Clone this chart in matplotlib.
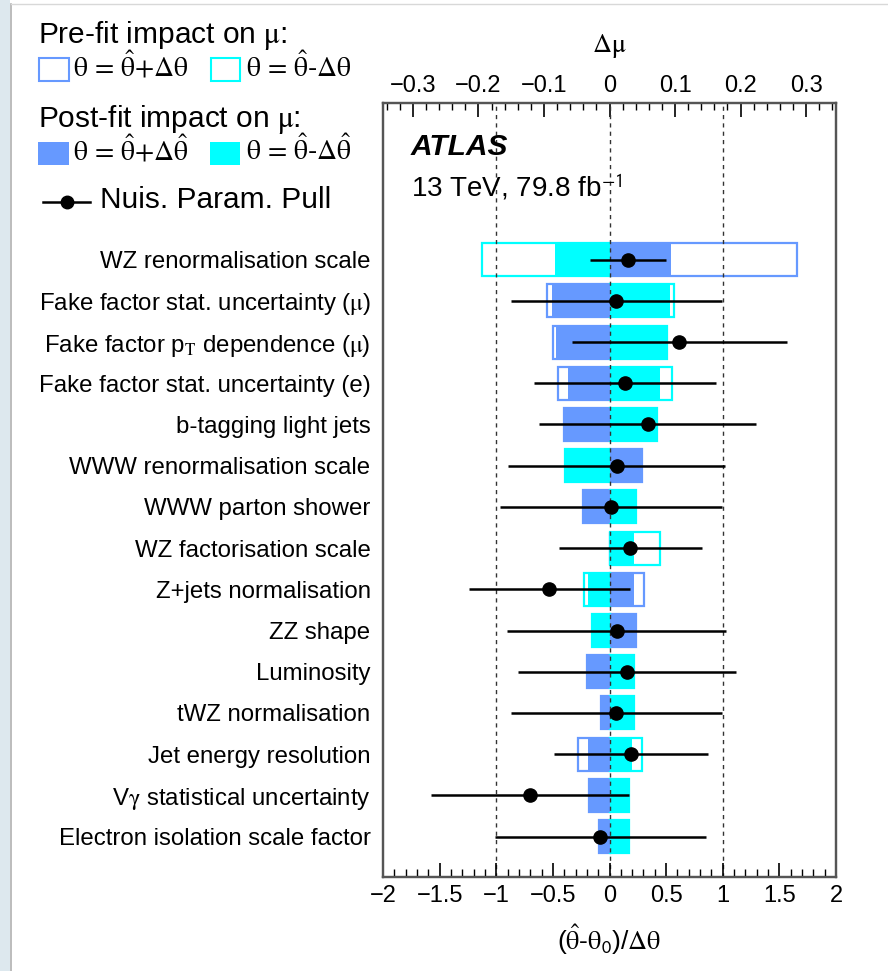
import numpy as np
import matplotlib
matplotlib.use("Agg")
import matplotlib.pyplot as plt
from matplotlib.patches import Rectangle
from matplotlib.lines import Line2D
from matplotlib.ticker import MultipleLocator

plt.rcParams['font.family'] = ['Liberation Sans', 'DejaVu Sans']
plt.rcParams['mathtext.fontset'] = 'stix'

# nuisance parameters, top to bottom
labels = [
    "WZ renormalisation scale",
    r"Fake factor stat. uncertainty ($\mathrm{\mu}$)",
    r"Fake factor p$_{\mathrm{T}}$ dependence ($\mathrm{\mu}$)",
    "Fake factor stat. uncertainty (e)",
    "b-tagging light jets",
    "WWW renormalisation scale",
    "WWW parton shower",
    "WZ factorisation scale",
    "Z+jets normalisation",
    "ZZ shape",
    "Luminosity",
    "tWZ normalisation",
    "Jet energy resolution",
    r"V$\mathrm{\gamma}$ statistical uncertainty",
    "Electron isolation scale factor",
]

# impact on mu (top axis)
prefit_up = [0.287, -0.095, -0.0855, -0.079, -0.070, 0.050, -0.041, 0.0,
             0.0524, 0.040, -0.035, -0.013, -0.048, -0.032, -0.0153]
prefit_down = [-0.195, 0.099, 0.0885, 0.095, 0.072, -0.068, 0.040, 0.0774,
               -0.0387, -0.026, 0.037, 0.037, 0.049, 0.0305, 0.0305]
postfit_up = [0.094, -0.088, -0.0814, -0.0626, -0.0687, 0.049, -0.041, 0.0,
              0.038, 0.040, -0.0346, -0.013, -0.0326, -0.030, -0.0153]
postfit_down = [-0.083, 0.093, 0.0855, 0.0774, 0.0718, -0.067, 0.040, 0.038,
                -0.033, -0.0255, 0.0371, 0.037, 0.0336, 0.0305, 0.0305]

# pulls (bottom axis)
pull = [0.165, 0.059, 0.618, 0.137, 0.338, 0.065, 0.015, 0.185,
        -0.533, 0.062, 0.156, 0.059, 0.188, -0.705, -0.08]
pull_err = [0.337, 0.933, 0.948, 0.80, 0.957, 0.957, 0.98, 0.633,
            0.71, 0.97, 0.96, 0.933, 0.68, 0.875, 0.935]

blue = '#6699ff'
cyan = '#00ffff'

W, H = 888, 971
fig = plt.figure(figsize=(W / 100, H / 100), dpi=100)


def fx(px):
    return px / W


def fy(py):
    return 1 - py / H


ax = fig.add_axes([fx(383), fy(877), fx(836) - fx(383), fy(103) - fy(877)])
ax2 = ax.twiny()
ax.set_zorder(ax2.get_zorder() + 1)
ax.patch.set_visible(False)

n = len(labels)
y = np.arange(n)[::-1]
h = 0.8

# pre-fit open boxes, post-fit filled boxes
ax2.barh(y, prefit_up, height=h, fill=False, edgecolor=blue, lw=1.6)
ax2.barh(y, prefit_down, height=h, fill=False, edgecolor=cyan, lw=1.6)
ax2.barh(y, postfit_up, height=h, color=blue, lw=0)
ax2.barh(y, postfit_down, height=h, color=cyan, lw=0)

for xv in (-1, 0, 1):
    ax.axvline(xv, color='#333333', lw=1.0, ls=(0, (3, 3)), zorder=1)

ax.errorbar(pull, y, xerr=pull_err, fmt='o', color='black', ms=9.5,
            lw=1.8, capsize=0, zorder=3)

ax.set_xlim(-2, 2)
ax2.set_xlim(-0.3458, 0.3458)
ax.set_ylim(-0.98, 17.8)

ax.set_yticks(y)
ax.set_yticklabels(labels, fontsize=17.3)
ax.tick_params(axis='y', length=0, pad=9)

ax.xaxis.set_major_locator(MultipleLocator(0.5))
ax.xaxis.set_minor_locator(MultipleLocator(0.1))
ax.tick_params(axis='x', which='major', direction='in', length=10, width=1.2,
               labelsize=17, pad=6, top=False)
ax.tick_params(axis='x', which='minor', direction='in', length=5.5, width=1.0,
               top=False)
ax.set_xticks([-2, -1.5, -1, -0.5, 0, 0.5, 1, 1.5, 2])
ax.set_xticklabels(['\u22122', '\u22121.5', '\u22121', '\u22120.5', '0',
                    '0.5', '1', '1.5', '2'])

ax2.xaxis.set_major_locator(MultipleLocator(0.1))
ax2.xaxis.set_minor_locator(MultipleLocator(0.02))
ax2.tick_params(axis='x', which='major', direction='in', length=10, width=1.2,
                labelsize=17, pad=4)
ax2.tick_params(axis='x', which='minor', direction='in', length=5, width=1.0)
ax2.set_xticks([-0.3, -0.2, -0.1, 0, 0.1, 0.2, 0.3])
ax2.set_xticklabels(['\u22120.3', '\u22120.2', '\u22120.1', '0', '0.1', '0.2', '0.3'])

for a in (ax, ax2):
    for s in a.spines.values():
        s.set_linewidth(1.6)
        s.set_color('#555555')

ax.set_xlabel(r'($\mathrm{\hat{\theta}}$-$\mathrm{\theta}_{\mathsf{0}}$)/$\mathrm{\Delta\theta}$',
              fontsize=19, labelpad=11)
ax2.set_xlabel(r'$\mathrm{\Delta\mu}$', fontsize=19, labelpad=17)

ax.text(0.062, 0.933, 'ATLAS', transform=ax.transAxes, fontsize=21.5,
        fontweight='bold', fontstyle='italic', va='baseline')
ax.text(0.062, 0.8786, r'13 TeV, 79.8 fb$^{\mathsf{-1}}$', transform=ax.transAxes,
        fontsize=20, va='baseline')

# legend block
fs = 21.5
fm = 20
fig.text(fx(38), fy(43), r'Pre-fit impact on $\mathrm{\mu}$:', fontsize=fs, va='baseline')
fig.add_artist(Rectangle((fx(39), fy(81)), 30 / W, 23 / H, fill=False,
                         edgecolor=blue, lw=1.5, transform=fig.transFigure))
fig.text(fx(73), fy(77), r'$\mathrm{\theta\,=\,\hat{\theta}{+}\Delta\theta}$',
         fontsize=fm, va='baseline')
fig.add_artist(Rectangle((fx(211), fy(81)), 29 / W, 23 / H, fill=False,
                         edgecolor=cyan, lw=1.5, transform=fig.transFigure))
fig.text(fx(246), fy(77), r'$\mathrm{\theta\,=\,\hat{\theta}}$-$\mathrm{\Delta\theta}$',
         fontsize=fm, va='baseline')

fig.text(fx(38), fy(127), r'Post-fit impact on $\mathrm{\mu}$:', fontsize=fs, va='baseline')
fig.add_artist(Rectangle((fx(38), fy(165)), 31 / W, 23 / H, facecolor=blue,
                         lw=0, transform=fig.transFigure))
fig.text(fx(73), fy(160), r'$\mathrm{\theta\,=\,\hat{\theta}{+}\Delta\hat{\theta}}$',
         fontsize=fm, va='baseline')
fig.add_artist(Rectangle((fx(210), fy(165)), 30 / W, 23 / H, facecolor=cyan,
                         lw=0, transform=fig.transFigure))
fig.text(fx(246), fy(160), r'$\mathrm{\theta\,=\,\hat{\theta}}$-$\mathrm{\Delta\hat{\theta}}$',
         fontsize=fm, va='baseline')

fig.add_artist(Line2D([fx(43), fx(90)], [fy(202), fy(202)], color='black', lw=1.8,
                      transform=fig.transFigure))
fig.add_artist(Line2D([fx(67)], [fy(202)], marker='o', ms=9, color='black',
                      transform=fig.transFigure))
fig.text(fx(100), fy(208), 'Nuis. Param. Pull', fontsize=fs, va='baseline')

# screenshot frame edges
fig.add_artist(Rectangle((0, 0), 10 / W, 1, facecolor='#dde8ee', lw=0,
                         transform=fig.transFigure))
fig.add_artist(Line2D([fx(10.5), fx(10.5)], [0, fy(4)], color='#b0b0b0', lw=1.2,
                      transform=fig.transFigure))
fig.add_artist(Line2D([fx(10.5), 1], [fy(4), fy(4)], color='#d8d8d8', lw=1.0,
                      transform=fig.transFigure))

fig.savefig('out.png', dpi=100)
